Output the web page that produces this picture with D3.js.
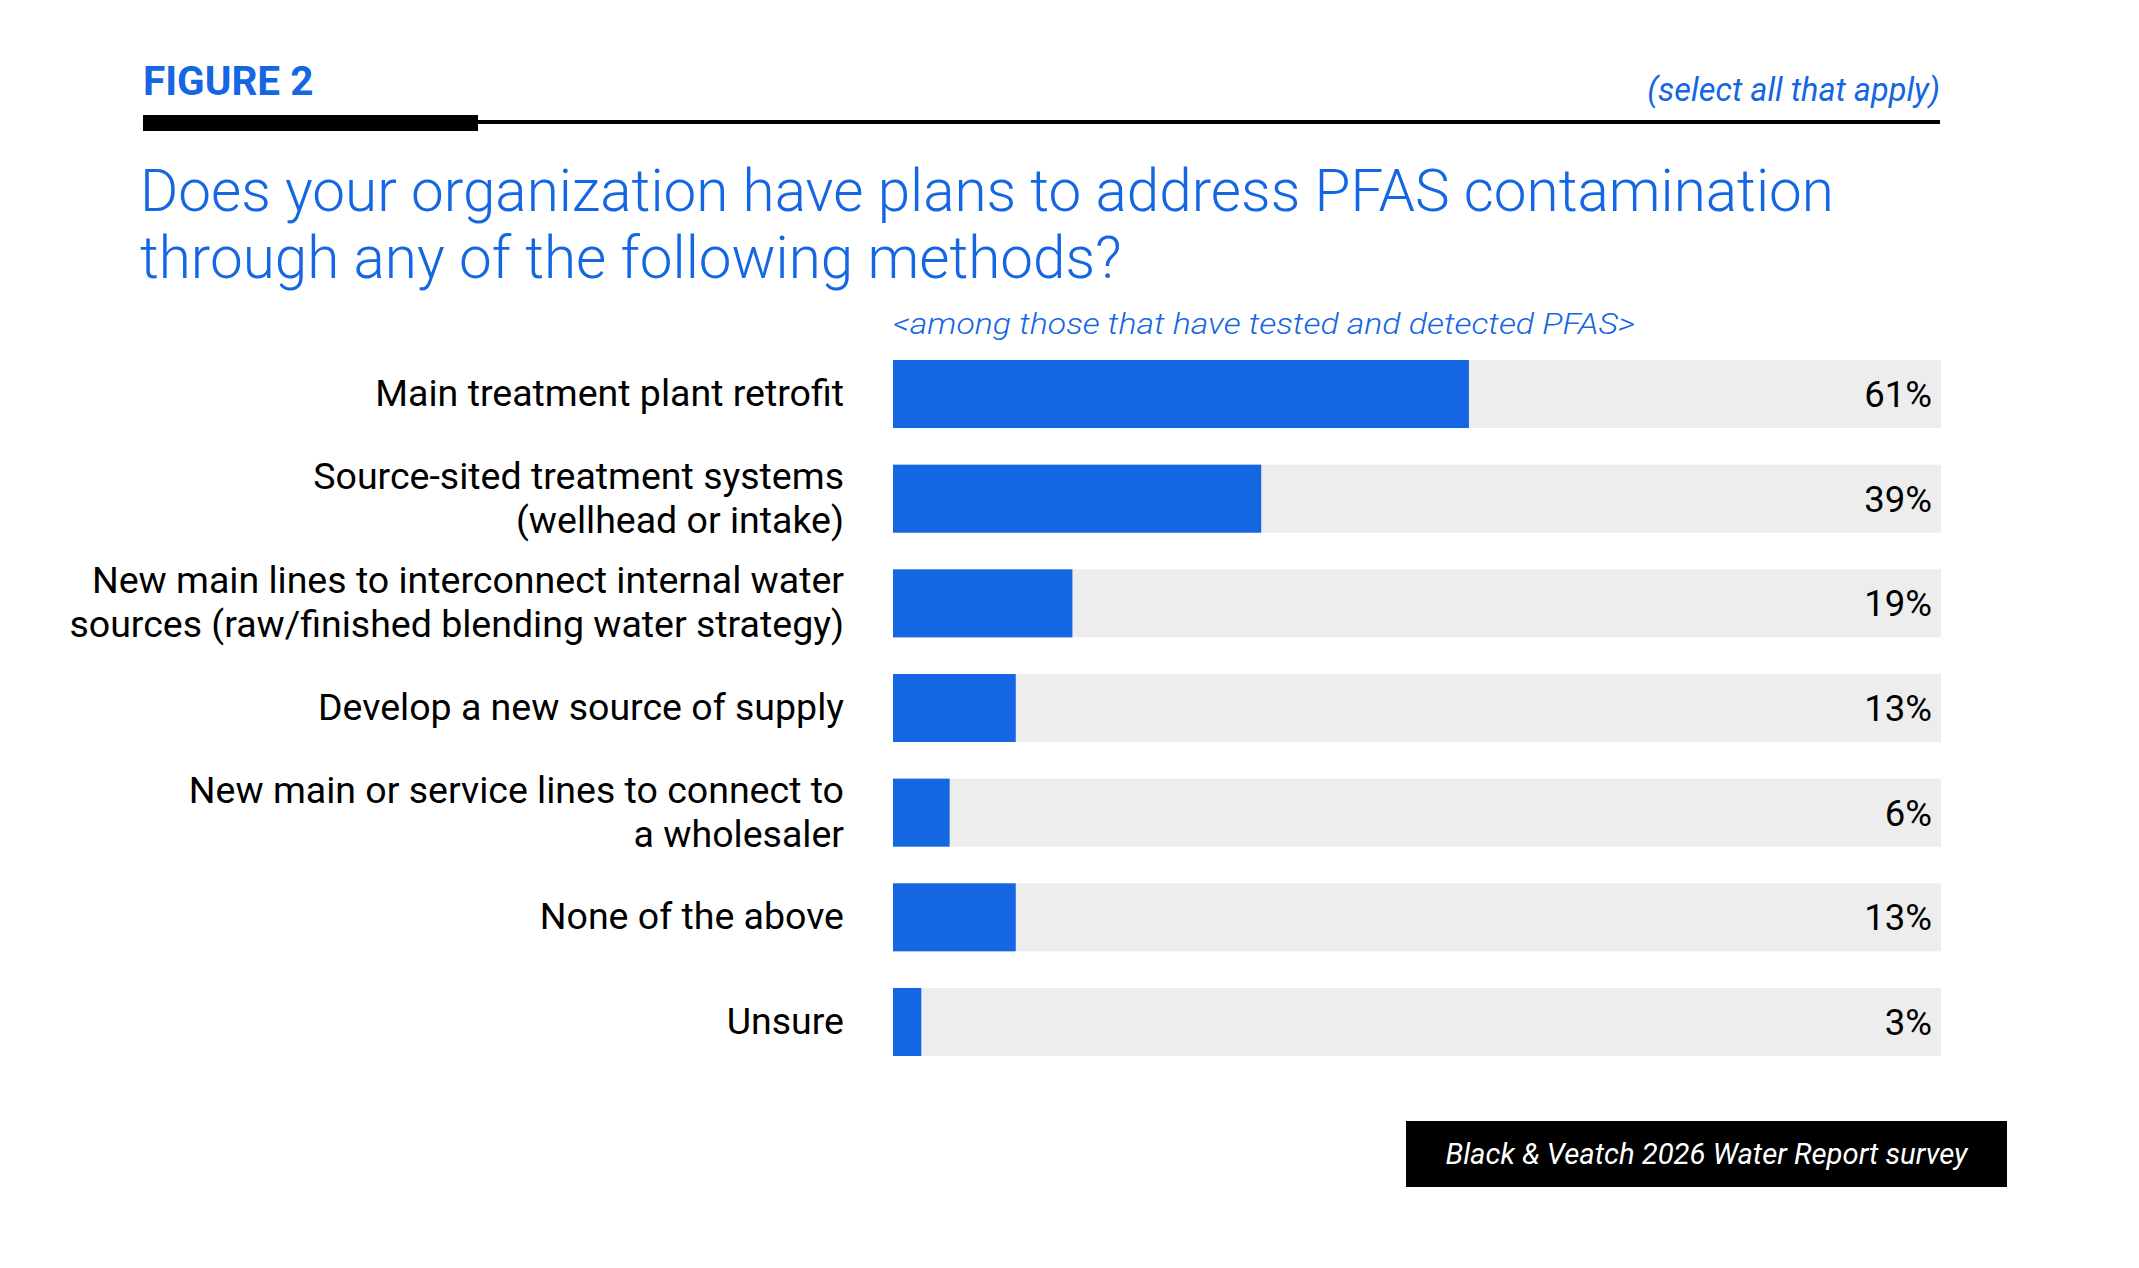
<!DOCTYPE html>
<html>
<head>
<meta charset="utf-8">
<script src="https://cdn.jsdelivr.net/npm/d3@7"></script>
<style>
  html, body { margin: 0; padding: 0; background: #fff; }
  svg { display: block; font-family: Roboto, "Noto Sans", sans-serif; }
</style>
</head>
<body>
<div id="chart"></div>
<script>
// Category labels (each entry is the lines of one label)
const categories = [
  ['Main treatment plant retrofit'],
  ['Source-sited treatment systems', '(wellhead or intake)'],
  ['New main lines to interconnect internal water', 'sources (raw/finished blending water strategy)'],
  ['Develop a new source of supply'],
  ['New main or service lines to connect to', 'a wholesaler'],
  ['None of the above'],
  ['Unsure']
];
const values = [61, 39, 19, 13, 6, 13, 3];

const figureLabel = 'FIGURE 2';
const noteText = '(select all that apply)';
const titleLines = [
  'Does your organization have plans to address PFAS contamination',
  'through any of the following methods?'
];
const subtitleText = '<among those that have tested and detected PFAS>';
const sourceText = 'Black & Veatch 2026 Water Report survey';

const width = 2139;
const height = 1268;
const blue = '#1466e2';
const track = '#ededed';

const svg = d3.select('#chart')
  .append('svg')
  .attr('width', width)
  .attr('height', height);

// Header
svg.append('text')
  .attr('x', 143).attr('y', 95)
  .attr('fill', blue)
  .attr('font-size', 40.5)
  .attr('font-weight', 700)
  .text(figureLabel);

svg.append('text')
  .attr('x', 1940).attr('y', 101)
  .attr('text-anchor', 'end')
  .attr('fill', blue)
  .attr('font-size', 32.5)
  .attr('font-style', 'italic')
  .attr('font-weight', 400)
  .text(noteText);

svg.append('rect')
  .attr('x', 143).attr('y', 120)
  .attr('width', 1940 - 143).attr('height', 4)
  .attr('fill', '#000');
svg.append('rect')
  .attr('x', 143).attr('y', 115)
  .attr('width', 478 - 143).attr('height', 16)
  .attr('fill', '#000');

// Title
svg.append('g')
  .selectAll('text')
  .data(titleLines)
  .join('text')
  .attr('x', 140)
  .attr('y', (d, i) => 211 + i * 67)
  .attr('fill', blue)
  .attr('font-size', 58.4)
  .attr('font-weight', 300)
  .text(d => d);

svg.append('text')
  .attr('x', 893).attr('y', 334)
  .attr('fill', blue)
  .attr('font-size', 29)
  .attr('font-style', 'italic')
  .attr('font-weight', 300)
  .attr('textLength', 742)
  .attr('lengthAdjust', 'spacingAndGlyphs')
  .text(subtitleText);

// Scales
const x = d3.scaleLinear()
  .domain([0, 111])
  .range([893, 1941]);

const y = d3.scaleBand()
  .domain(d3.range(categories.length))
  .range([341.7, 1074.3])
  .paddingInner(0.35)
  .paddingOuter(0.175);

const rows = svg.append('g')
  .selectAll('g')
  .data(values)
  .join('g')
  .attr('transform', (d, i) => `translate(0,${y(i)})`);

rows.append('rect')
  .attr('x', x(0))
  .attr('width', x(111) - x(0))
  .attr('height', y.bandwidth())
  .attr('fill', track);

rows.append('rect')
  .attr('x', x(0))
  .attr('width', d => x(d) - x(0))
  .attr('height', y.bandwidth())
  .attr('fill', blue);

rows.append('text')
  .attr('x', 1932)
  .attr('y', y.bandwidth() / 2 + 13)
  .attr('text-anchor', 'end')
  .attr('font-size', 36.5)
  .attr('fill', '#000')
  .text(d => d + '%');

rows.append('text')
  .attr('text-anchor', 'end')
  .attr('font-size', 37.5)
  .attr('fill', '#000')
  .selectAll('tspan')
  .data((d, i) => categories[i].map((line, j, arr) => ({ line, j, n: arr.length })))
  .join('tspan')
  .attr('x', 844)
  .attr('y', d => y.bandwidth() / 2 + 12 + (d.j - (d.n - 1) / 2) * 44)
  .text(d => d.line);

// Source box
svg.append('rect')
  .attr('x', 1406).attr('y', 1121)
  .attr('width', 601).attr('height', 66)
  .attr('fill', '#000');
svg.append('text')
  .attr('x', 1706.5).attr('y', 1164)
  .attr('text-anchor', 'middle')
  .attr('fill', '#fff')
  .attr('font-size', 29)
  .attr('font-style', 'italic')
  .attr('textLength', 522)
  .attr('lengthAdjust', 'spacingAndGlyphs')
  .text(sourceText);
</script>
</body>
</html>
